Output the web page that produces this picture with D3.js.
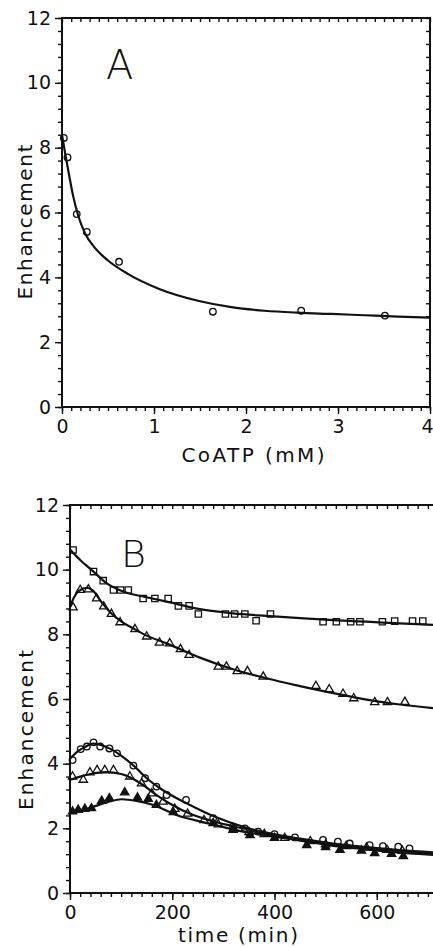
<!DOCTYPE html>
<html>
<head>
<meta charset="utf-8">
<script src="https://cdn.jsdelivr.net/npm/d3@7"></script>
<style>
  html, body { margin: 0; padding: 0; background: #fff; }
  svg { display: block; }
  text { font-family: "DejaVu Sans", "Liberation Sans", sans-serif; fill: #111; }
</style>
</head>
<body>
<svg id="chart" width="433" height="947"></svg>
<script>
// ---------------- Panel A data ----------------
const coatpPoints = [0.02, 0.06, 0.16, 0.27, 0.62, 1.64, 2.60, 3.51];
const coatpEnh    = [8.3, 7.7, 5.95, 5.4, 4.48, 2.94, 2.97, 2.82];
const coatpFitX   = [0, 0.04, 0.08, 0.12, 0.18, 0.25, 0.36, 0.5, 0.72, 1.05, 1.49, 1.84, 2.2, 2.56, 2.93, 3.29, 3.65, 4.0];
const coatpFitY   = [8.4, 7.73, 7.11, 6.52, 5.87, 5.36, 4.9, 4.52, 4.1, 3.65, 3.27, 3.08, 2.97, 2.91, 2.87, 2.83, 2.79, 2.76];
const aYTicks = [0, 2, 4, 6, 8, 10, 12];
const aXTicks = [0, 1, 2, 3, 4];

// ---------------- Panel B data ----------------
// open squares
const sqT = [6, 46, 65, 85, 99, 114, 143, 166, 192, 212, 233, 251, 304, 322, 342, 364, 392, 495, 521, 549, 567, 611, 635, 670, 690];
const sqV = [10.61, 9.94, 9.66, 9.37, 9.37, 9.37, 9.11, 9.11, 9.11, 8.88, 8.88, 8.63, 8.63, 8.63, 8.63, 8.42, 8.63, 8.39, 8.39, 8.39, 8.39, 8.39, 8.41, 8.41, 8.41];
const sqFitT = [0, 20, 46, 70, 100, 114, 143, 189, 254, 319, 384, 450, 515, 580, 645, 710];
const sqFitV = [10.62, 10.3, 9.94, 9.6, 9.35, 9.27, 9.17, 9.01, 8.78, 8.65, 8.57, 8.5, 8.44, 8.39, 8.34, 8.29];
// open triangles (upper)
const tuT = [6, 20, 36, 52, 66, 81, 98, 127, 150, 175, 195, 216, 233, 290, 306, 327, 347, 378, 481, 507, 534, 555, 596, 621, 655];
const tuV = [8.83, 9.37, 9.39, 9.11, 8.86, 8.63, 8.37, 8.16, 7.93, 7.74, 7.72, 7.54, 7.36, 7.0, 7.0, 6.86, 6.86, 6.69, 6.4, 6.3, 6.16, 6.02, 5.9, 5.9, 5.91];
const tuFitT = [0, 8, 18, 33, 45, 59, 80, 100, 124, 150, 189, 254, 319, 384, 450, 515, 580, 645, 710];
const tuFitV = [8.85, 9.15, 9.35, 9.44, 9.35, 9.05, 8.66, 8.4, 8.18, 7.96, 7.72, 7.28, 6.92, 6.64, 6.4, 6.18, 5.98, 5.83, 5.72];
// open circles
const ciT = [5, 21, 33, 46, 59, 77, 92, 124, 147, 169, 189, 227, 280, 319, 342, 368, 400, 440, 495, 524, 547, 586, 612, 642, 664];
const ciV = [4.11, 4.45, 4.53, 4.66, 4.53, 4.47, 4.32, 3.94, 3.55, 3.29, 3.03, 2.88, 2.31, 2.05, 2.0, 1.9, 1.82, 1.72, 1.64, 1.59, 1.53, 1.48, 1.45, 1.43, 1.38];
const ciFitT = [0, 15, 30, 45, 60, 80, 100, 125, 150, 176, 210, 241, 280, 345, 384, 450, 515, 580, 645, 710];
const ciFitV = [4.15, 4.38, 4.52, 4.62, 4.58, 4.45, 4.25, 3.93, 3.55, 3.24, 2.92, 2.67, 2.38, 2.02, 1.87, 1.68, 1.53, 1.42, 1.33, 1.26];
// open triangles (lower)
const tlT = [5, 26, 39, 53, 68, 85, 117, 140, 160, 182, 205, 230, 262, 290, 320, 350, 380, 420, 470, 500, 540, 580, 620, 650];
const tlV = [3.6, 3.5, 3.73, 3.8, 3.8, 3.8, 3.6, 3.39, 3.08, 2.82, 2.6, 2.45, 2.25, 2.12, 2.0, 1.88, 1.82, 1.7, 1.6, 1.5, 1.45, 1.4, 1.33, 1.3];
const tlFitT = [0, 20, 40, 70, 100, 120, 143, 170, 195, 241, 280, 345, 384, 450, 515, 580, 645, 710];
const tlFitV = [3.5, 3.6, 3.68, 3.74, 3.68, 3.56, 3.34, 3.02, 2.77, 2.41, 2.22, 1.97, 1.82, 1.65, 1.49, 1.38, 1.29, 1.22];
// filled triangles
const tfT = [5, 16, 29, 42, 62, 77, 107, 132, 153, 169, 202, 280, 319, 352, 400, 463, 500, 528, 570, 596, 629, 652];
const tfV = [2.52, 2.57, 2.6, 2.62, 2.85, 2.93, 3.11, 2.95, 2.91, 2.72, 2.5, 2.16, 1.95, 1.79, 1.7, 1.48, 1.42, 1.33, 1.31, 1.23, 1.21, 1.14];
const tfFitT = [0, 20, 46, 75, 101, 130, 163, 208, 274, 320, 384, 450, 515, 580, 645, 710];
const tfFitV = [2.5, 2.55, 2.67, 2.82, 2.9, 2.85, 2.72, 2.41, 2.14, 1.96, 1.78, 1.62, 1.46, 1.35, 1.25, 1.18];
const bYTicks = [0, 2, 4, 6, 8, 10, 12];
const bXTicks = [0, 200, 400, 600];

// ---------------- drawing ----------------
const svg = d3.select("#chart");
const zip = (a, b) => a.map((v, i) => [v, b[i]]);
const range = (a, b, s) => d3.range(a, b + s / 2, s).map(v => +v.toFixed(4));

function drawAxes(g, x, y, opts) {
  const [x0, x1] = x.range();
  const [y0, y1] = y.range();
  g.append("g").attr("transform", `translate(${x0},0)`)
    .call(d3.axisLeft(y).tickValues(opts.yMinor).tickSize(4).tickFormat(""))
    .call(s => s.select(".domain").remove());
  g.append("g").attr("transform", `translate(${x0},0)`)
    .call(d3.axisLeft(y).tickValues(opts.yMajor).tickSize(7).tickPadding(4).tickFormat(d3.format("d")))
    .call(s => s.select(".domain").remove())
    .call(s => s.selectAll("text").attr("font-size", 19));
  g.append("g").attr("transform", `translate(0,${y0})`)
    .call(d3.axisBottom(x).tickValues(opts.xMinor).tickSize(4).tickFormat(""))
    .call(s => s.select(".domain").remove());
  const bx = g.append("g").attr("transform", `translate(0,${y0})`)
    .call(d3.axisBottom(x).tickValues(opts.xMajor).tickSize(7).tickPadding(6).tickFormat(d3.format("d")))
    .call(s => s.select(".domain").remove())
    .call(s => s.selectAll("text").attr("font-size", 19));
  if (opts.lastLabelEnd) {
    bx.selectAll(".tick text").filter(d => d === opts.xMajor[opts.xMajor.length - 1])
      .attr("text-anchor", "end").attr("x", 3);
  }
  g.append("g").attr("transform", `translate(0,${y1})`)
    .call(d3.axisBottom(x).tickValues(opts.xMinor).tickSize(4).tickFormat(""))
    .call(s => s.select(".domain").remove());
  if (opts.right) {
    g.append("g").attr("transform", `translate(${x1},0)`)
      .call(d3.axisLeft(y).tickValues(opts.yMinor).tickSize(4).tickFormat(""))
      .call(s => s.select(".domain").remove());
  }
  g.selectAll(".tick line").attr("stroke", "#111").attr("stroke-width", 1.4);
  const frame = g.append("g").attr("stroke", "#111").attr("stroke-width", 2).attr("fill", "none");
  frame.append("line").attr("x1", x0).attr("x2", x0).attr("y1", y0 + 1).attr("y2", y1 - 1);
  frame.append("line").attr("x1", x0 - 1).attr("x2", x1 + (opts.right ? 1 : 0)).attr("y1", y0).attr("y2", y0);
  frame.append("line").attr("x1", x0 - 1).attr("x2", x1 + (opts.right ? 1 : 0)).attr("y1", y1).attr("y2", y1);
  if (opts.right) frame.append("line").attr("x1", x1).attr("x2", x1).attr("y1", y0).attr("y2", y1);
}

function drawCurve(g, x, y, pts) {
  g.append("path").datum(pts)
    .attr("fill", "none").attr("stroke", "#111").attr("stroke-width", 2.2)
    .attr("d", d3.line().x(d => x(d[0])).y(d => y(d[1])).curve(d3.curveMonotoneX));
}

function drawMarks(g, x, y, pts, type, size, filled) {
  const sym = d3.symbol().type(type).size(size);
  g.append("g").selectAll("path").data(pts).join("path")
    .attr("transform", d => `translate(${x(d[0])},${y(d[1])})`)
    .attr("d", sym)
    .attr("fill", filled ? "#111" : "none")
    .attr("stroke", "#111").attr("stroke-width", 1.3);
}

// ---- Panel A ----
const xA = d3.scaleLinear([0, 4], [62, 430]);
const yA = d3.scaleLinear([0, 12], [407, 18]);
const gA = svg.append("g");
drawAxes(gA, xA, yA, {
  yMajor: aYTicks, yMinor: range(0, 12, 0.4),
  xMajor: aXTicks, xMinor: range(0, 4, 0.1), right: true, lastLabelEnd: true
});
drawCurve(gA, xA, yA, zip(coatpFitX, coatpFitY));
drawMarks(gA, xA, yA, zip(coatpPoints, coatpEnh), d3.symbolCircle, 34, false);
gA.append("text").attr("x", 106).attr("y", 79).attr("font-size", 40).attr("font-weight", 200).text("A");
gA.append("text").attr("x", 253).attr("y", 462).attr("text-anchor", "middle").attr("font-size", 20)
  .attr("textLength", 143).attr("lengthAdjust", "spacing").text("CoATP (mM)");
gA.append("text").attr("transform", "translate(32,222) rotate(-90)").attr("text-anchor", "middle")
  .attr("font-size", 20).attr("textLength", 155).attr("lengthAdjust", "spacing").text("Enhancement");

// ---- Panel B ----
const xB = d3.scaleLinear([0, 710], [70, 433]);
const yB = d3.scaleLinear([0, 12], [893, 505]);
const gB = svg.append("g");
drawAxes(gB, xB, yB, {
  yMajor: bYTicks, yMinor: range(0, 12, 0.4),
  xMajor: bXTicks, xMinor: range(0, 700, 20), right: false
});
drawCurve(gB, xB, yB, zip(sqFitT, sqFitV));
drawCurve(gB, xB, yB, zip(tuFitT, tuFitV));
drawCurve(gB, xB, yB, zip(ciFitT, ciFitV));
drawCurve(gB, xB, yB, zip(tlFitT, tlFitV));
drawCurve(gB, xB, yB, zip(tfFitT, tfFitV));
drawMarks(gB, xB, yB, zip(sqT, sqV), d3.symbolSquare, 40, false);
drawMarks(gB, xB, yB, zip(tuT, tuV), d3.symbolTriangle, 30, false);
drawMarks(gB, xB, yB, zip(ciT, ciV), d3.symbolCircle, 34, false);
drawMarks(gB, xB, yB, zip(tlT, tlV), d3.symbolTriangle, 30, false);
drawMarks(gB, xB, yB, zip(tfT, tfV), d3.symbolTriangle, 30, true);
gB.append("text").attr("x", 121).attr("y", 567).attr("font-size", 38).attr("font-weight", 200).text("B");
gB.append("text").attr("x", 238).attr("y", 942).attr("text-anchor", "middle").attr("font-size", 20)
  .attr("textLength", 120).attr("lengthAdjust", "spacing").text("time (min)");
gB.append("text").attr("transform", "translate(33,730) rotate(-90)").attr("text-anchor", "middle")
  .attr("font-size", 20).attr("textLength", 160).attr("lengthAdjust", "spacing").text("Enhancement");
</script>
</body>
</html>
